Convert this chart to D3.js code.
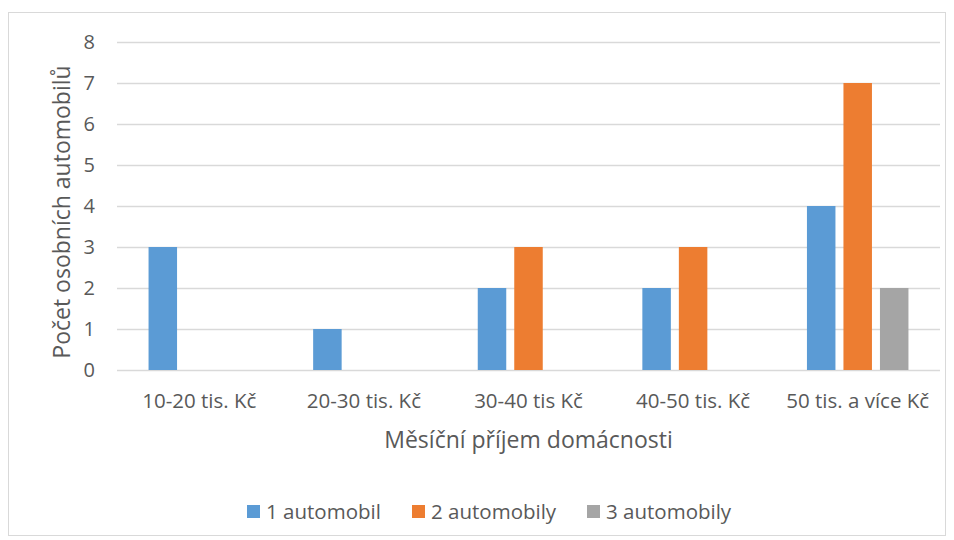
<!DOCTYPE html>
<html><head><meta charset="utf-8">
<script src="https://cdn.jsdelivr.net/npm/d3@7"></script>
<style>body{margin:0;background:#fff;} text{font-family:"Open Sans",sans-serif;fill:#595959;}</style>
</head><body><svg id="c" width="954" height="540"></svg>
<script>
const categories = ["10-20 tis. Kč","20-30 tis. Kč","30-40 tis Kč","40-50 tis. Kč","50 tis. a více Kč"];
const seriesNames = ["1 automobil","2 automobily","3 automobily"];
const s1 = [3,1,2,2,4];
const s2 = [0,0,3,3,7];
const s3 = [0,0,0,0,2];
const yTicks = [0,1,2,3,4,5,6,7,8];
const colors = ["#5b9bd5","#ed7d31","#a5a5a5"];
const series = [s1,s2,s3];

const svg = d3.select("#c");
svg.append("rect").attr("x",8.5).attr("y",12.5).attr("width",937).attr("height",523)
  .attr("fill","#fff").attr("stroke","#d9d9d9");

const L=117,R=940,T=42,B=370;
const x = d3.scaleBand().domain(categories).range([L,R]).paddingInner(0).paddingOuter(0);
const y = d3.scaleLinear().domain([0,8]).range([B,T]);
const bw = 28.5, gap = 8;
const xs = d3.scaleBand().domain(seriesNames).range([0, 3*bw+2*gap]).paddingInner(gap/(bw+gap));

// gridlines
svg.append("g").selectAll("line").data(yTicks).join("line")
  .attr("x1",L).attr("x2",R).attr("y1",d=>Math.round(y(d))+0.5).attr("y2",d=>Math.round(y(d))+0.5)
  .attr("stroke","#d9d9d9").attr("stroke-width",1.3);

// y axis labels
const yAxis = d3.axisLeft(y).tickValues(yTicks).tickSize(0).tickPadding(0);
const gy = svg.append("g").attr("transform",`translate(${L-22},0)`).call(yAxis);
gy.select(".domain").remove();
gy.selectAll("text").attr("font-size",20).attr("fill","#595959").style("font-family","Open Sans");

// bars
const groupW = 3*bw+2*gap;
series.forEach((s,i)=>{
  svg.append("g").selectAll("rect").data(categories.map((c,j)=>({c,v:s[j]})).filter(d=>d.v>0)).join("rect")
    .attr("x",d=>x(d.c)+x.bandwidth()/2-groupW/2+xs(seriesNames[i]))
    .attr("width",xs.bandwidth())
    .attr("y",d=>y(d.v)).attr("height",d=>y(0)-y(d.v))
    .attr("fill",colors[i]);
});

// x axis labels
const xAxis = d3.axisBottom(x).tickSize(0).tickPadding(0);
const gx = svg.append("g").attr("transform",`translate(0,${B+38})`).call(xAxis);
gx.select(".domain").remove();
gx.selectAll("text").attr("font-size",20.5).attr("fill","#595959").attr("dy",0).style("font-family","Open Sans");

// axis titles
svg.append("text").attr("x",(L+R)/2).attr("y",448).attr("text-anchor","middle").attr("font-size",23)
  .text("Měsíční příjem domácnosti");
svg.append("text").attr("transform",`translate(70,${(T+B)/2+6}) rotate(-90)`).attr("text-anchor","middle").attr("font-size",23)
  .text("Počet osobních automobilů");

// legend
const legX = [247,412,587];
const lg = svg.append("g");
seriesNames.forEach((n,i)=>{
  lg.append("rect").attr("x",legX[i]).attr("y",505).attr("width",13).attr("height",13).attr("fill",colors[i]);
  lg.append("text").attr("x",legX[i]+19).attr("y",519).attr("font-size",20.5).text(n);
});
</script></body></html>
